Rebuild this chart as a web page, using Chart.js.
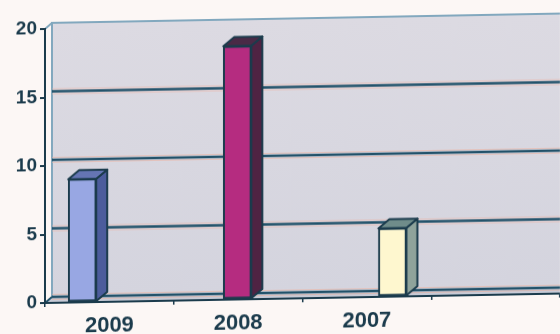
<!DOCTYPE html>
<html>
<head>
<meta charset="utf-8">
<script src="https://cdn.jsdelivr.net/npm/chart.js@4.4.1/dist/chart.umd.min.js"></script>
<style>
  html, body { margin: 0; padding: 0; background: #fcf7f5; }
  #wrap {
    width: 560px;
    height: 334px;
    /* the whole sheet leans a little, rising to the right */
    transform: skewY(-1.05deg);
    transform-origin: 45px 0;
  }
</style>
</head>
<body>
<div id="wrap"><canvas id="chart"></canvas></div>
<script>
const years = ["2009", "2008", "2007"];
const counts = [9, 18.5, 5];
const yTicks = [0, 5, 10, 15, 20];

const ink = "#1b3b4c";
const faceColors = ["#98a7e3", "#b52c80", "#fef7cf"];
const sideColors = ["#4c5c9c", "#4f2343", "#8fa39b"];
const topColors = ["#6575b4", "#4a2a46", "#6f8c8a"];

// back wall, floor and wall gridlines sit a few px behind the front axis
const wall = {
  id: "wall",
  beforeDraw(chart) {
    const { ctx, chartArea: a, scales: { y } } = chart;
    const dx = 7, dy = -6;
    const top = y.getPixelForValue(yTicks[yTicks.length - 1]) + dy;
    const floor = y.getPixelForValue(yTicks[0]) + dy;
    ctx.save();

    const g = ctx.createLinearGradient(0, top, 0, floor);
    g.addColorStop(0, "#dcdae2");
    g.addColorStop(1, "#d4d4de");
    ctx.fillStyle = g;
    ctx.fillRect(a.left + dx, top, a.right - a.left - dx, floor - top);

    ctx.fillStyle = "#c6cad6";
    ctx.beginPath();
    ctx.moveTo(a.left, a.bottom);
    ctx.lineTo(a.left + dx, floor);
    ctx.lineTo(a.right, floor);
    ctx.lineTo(a.right, a.bottom);
    ctx.closePath();
    ctx.fill();

    // wall edges
    ctx.strokeStyle = "#82a8be";
    ctx.lineWidth = 2;
    ctx.beginPath();
    ctx.moveTo(a.right, top);
    ctx.lineTo(a.left + dx, top);
    ctx.lineTo(a.left + dx, floor);
    ctx.moveTo(a.left, y.getPixelForValue(yTicks[yTicks.length - 1]));
    ctx.lineTo(a.left + dx, top);
    ctx.stroke();

    yTicks.slice(0, -1).forEach(v => {
      const py = y.getPixelForValue(v) + dy;
      // faint warm fringe either side of each line
      ctx.strokeStyle = "rgba(238, 176, 158, 0.55)";
      ctx.lineWidth = 1;
      ctx.beginPath();
      ctx.moveTo(a.left + dx, py - 2.5);
      ctx.lineTo(a.right, py - 2.5);
      ctx.moveTo(a.left + dx, py + 2.5);
      ctx.lineTo(a.right, py + 2.5);
      ctx.stroke();
      ctx.strokeStyle = "#22526a";
      ctx.lineWidth = 2.5;
      ctx.beginPath();
      ctx.moveTo(a.left + dx, py);
      ctx.lineTo(a.right, py);
      ctx.stroke();
    });
    ctx.strokeStyle = "#22526a";
    ctx.lineWidth = 2;
    ctx.beginPath();
    ctx.moveTo(a.left, a.bottom);
    ctx.lineTo(a.left + dx, floor);
    ctx.stroke();
    ctx.restore();
  }
};

// right side and top faces of each column
const depth = {
  id: "depth",
  afterDatasetsDraw(chart) {
    const { ctx } = chart;
    const dx = 11, dy = -9;
    chart.getDatasetMeta(0).data.forEach((bar, i) => {
      const { x, y, base, width } = bar.getProps(["x", "y", "base", "width"], true);
      const l = x - width / 2, r = x + width / 2;
      ctx.save();
      ctx.lineWidth = 2;
      ctx.lineJoin = "round";
      ctx.strokeStyle = ink;

      ctx.fillStyle = sideColors[i];
      ctx.beginPath();
      ctx.moveTo(r, y);
      ctx.lineTo(r + dx, y + dy);
      ctx.lineTo(r + dx, base + dy);
      ctx.lineTo(r, base);
      ctx.closePath();
      ctx.fill();
      ctx.stroke();

      ctx.fillStyle = topColors[i];
      ctx.beginPath();
      ctx.moveTo(l, y);
      ctx.lineTo(l + dx, y + dy);
      ctx.lineTo(r + dx, y + dy);
      ctx.lineTo(r, y);
      ctx.closePath();
      ctx.fill();
      ctx.stroke();
      ctx.restore();
    });
  }
};

const ctx = document.getElementById("chart").getContext("2d");

new Chart(ctx, {
  type: "bar",
  data: {
    datasets: [
      {
        data: counts.map((v, i) => ({ x: i, y: v })),
        xAxisID: "xb",
        backgroundColor: faceColors,
        borderColor: ink,
        borderWidth: 2,
        borderSkipped: false,
        barThickness: 28,
      },
    ],
  },
  options: {
    responsive: true,
    maintainAspectRatio: false,
    animation: false,
    layout: { padding: { top: 29, right: 0, bottom: 0, left: 0 } },
    plugins: { legend: { display: false }, tooltip: { enabled: false } },
    scales: {
      // columns are placed on their own hidden axis
      xb: {
        type: "linear",
        display: false,
        offset: false,
        min: -0.24,
        max: 3.08,
      },
      // year labels with tick marks between slots
      x: {
        type: "category",
        labels: [...years, ""],
        offset: true,
        border: { display: true, color: ink, width: 2 },
        grid: {
          offset: true,
          drawOnChartArea: false,
          tickLength: 4,
          color: ink,
          lineWidth: 1.5,
        },
        ticks: {
          color: ink,
          padding: 7,
          maxRotation: 0,
          font: { family: "'Liberation Sans', Arial, sans-serif", size: 22, weight: "bold" },
        },
        afterFit(scale) {
          scale.height = 31;
        },
      },
      y: {
        type: "linear",
        min: yTicks[0],
        max: yTicks[yTicks.length - 1],
        border: { display: true, color: ink, width: 2 },
        grid: {
          drawOnChartArea: false,
          tickLength: 5,
          color: ink,
          lineWidth: 2,
        },
        ticks: {
          stepSize: yTicks[1] - yTicks[0],
          color: ink,
          padding: 3,
          font: { family: "'Liberation Sans', Arial, sans-serif", size: 19, weight: "bold" },
        },
        afterFit(scale) {
          scale.width = 45;
        },
      },
    },
  },
  plugins: [wall, depth],
});
</script>
</body>
</html>
